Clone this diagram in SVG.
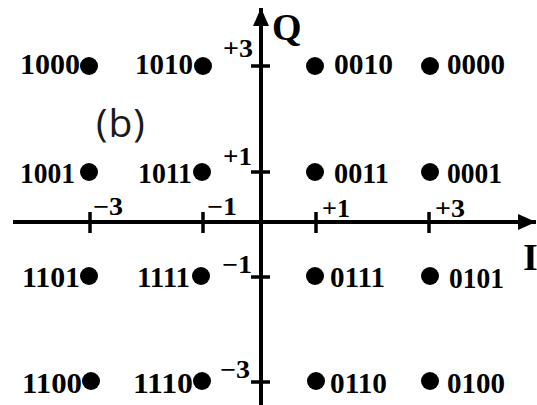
<svg xmlns="http://www.w3.org/2000/svg" width="537" height="405" viewBox="0 0 537 405">
<style>
.lbl{font-family:"Liberation Serif","Times New Roman",serif;font-weight:bold;font-size:30px;fill:#000}
.ax{font-family:"Liberation Serif","Times New Roman",serif;font-weight:bold;font-size:25px;fill:#000}
.big{font-family:"Liberation Serif","Times New Roman",serif;font-weight:bold;font-size:38px;fill:#000}
.axis{stroke:#000;stroke-width:4;fill:none}
.tick{stroke:#000;stroke-width:3.5;fill:none}
.dot{fill:#000}
</style>
<defs>
<marker id="arr" markerUnits="userSpaceOnUse" markerWidth="20" markerHeight="16" refX="18" refY="8" orient="auto">
<path d="M0,0 L18,8 L0,16 z" fill="#000"/>
</marker>
</defs>
<rect width="537" height="405" fill="#fff"/>
<g id="connectors">
<line class="axis" x1="261" y1="405" x2="261" y2="8" marker-end="url(#arr)"/>
<line class="axis" x1="13" y1="222" x2="536" y2="222" marker-end="url(#arr)"/>
<g id="ticks">
<line class="tick" x1="90" y1="212" x2="90" y2="233"/>
<line class="tick" x1="203" y1="212" x2="203" y2="233"/>
<line class="tick" x1="316" y1="212" x2="316" y2="233"/>
<line class="tick" x1="429" y1="212" x2="429" y2="233"/>
<line class="tick" x1="251" y1="66" x2="270" y2="66"/>
<line class="tick" x1="251" y1="172" x2="270" y2="172"/>
<line class="tick" x1="251" y1="277" x2="270" y2="277"/>
<line class="tick" x1="251" y1="382" x2="270" y2="382"/>
</g>
</g>
<g id="axis-labels">
<text class="big" x="272" y="40">Q</text>
<text class="big" x="523" y="270" font-size="40">I</text>
<text class="ax" x="223" y="57" textLength="30" lengthAdjust="spacingAndGlyphs">+3</text>
<text class="ax" x="223" y="165" textLength="29" lengthAdjust="spacingAndGlyphs">+1</text>
<text class="ax" x="222" y="273" textLength="30" lengthAdjust="spacingAndGlyphs">−1</text>
<text class="ax" x="220" y="378" textLength="30" lengthAdjust="spacingAndGlyphs">−3</text>
<text class="ax" x="93" y="215" textLength="30" lengthAdjust="spacingAndGlyphs">−3</text>
<text class="ax" x="207" y="215" textLength="30" lengthAdjust="spacingAndGlyphs">−1</text>
<text class="ax" x="322" y="217" textLength="28" lengthAdjust="spacingAndGlyphs">+1</text>
<text class="ax" x="435" y="217" textLength="30" lengthAdjust="spacingAndGlyphs">+3</text>
</g>
<text x="96" y="137" font-family="'Open Sans','Liberation Sans',sans-serif" font-size="39" fill="#1a1a1a" letter-spacing="1">(b)</text>
<g id="n1000"><circle class="dot" cx="89" cy="66" r="9"/><text class="lbl" x="20" y="74" textLength="60" lengthAdjust="spacingAndGlyphs">1000</text></g>
<g id="n1010"><circle class="dot" cx="203" cy="66" r="9"/><text class="lbl" x="135" y="74" textLength="58" lengthAdjust="spacingAndGlyphs">1010</text></g>
<g id="n0010"><circle class="dot" cx="315" cy="66" r="9"/><text class="lbl" x="334" y="74" textLength="59" lengthAdjust="spacingAndGlyphs">0010</text></g>
<g id="n0000"><circle class="dot" cx="430" cy="66" r="9"/><text class="lbl" x="447" y="74" textLength="58" lengthAdjust="spacingAndGlyphs">0000</text></g>
<g id="n1001"><circle class="dot" cx="89" cy="172" r="9"/><text class="lbl" x="20" y="183" textLength="55" lengthAdjust="spacingAndGlyphs">1001</text></g>
<g id="n1011"><circle class="dot" cx="202" cy="172" r="9"/><text class="lbl" x="138" y="183" textLength="54" lengthAdjust="spacingAndGlyphs">1011</text></g>
<g id="n0011"><circle class="dot" cx="315" cy="172" r="9"/><text class="lbl" x="334" y="183" textLength="55" lengthAdjust="spacingAndGlyphs">0011</text></g>
<g id="n0001"><circle class="dot" cx="430" cy="172" r="9"/><text class="lbl" x="447" y="183" textLength="55" lengthAdjust="spacingAndGlyphs">0001</text></g>
<g id="n1101"><circle class="dot" cx="89" cy="276" r="9"/><text class="lbl" x="22" y="287" textLength="58" lengthAdjust="spacingAndGlyphs">1101</text></g>
<g id="n1111"><circle class="dot" cx="201" cy="276" r="9"/><text class="lbl" x="137" y="287" textLength="53" lengthAdjust="spacingAndGlyphs">1111</text></g>
<g id="n0111"><circle class="dot" cx="315" cy="276" r="9"/><text class="lbl" x="330" y="287" textLength="55" lengthAdjust="spacingAndGlyphs">0111</text></g>
<g id="n0101"><circle class="dot" cx="430" cy="276" r="9"/><text class="lbl" x="449" y="288" textLength="55" lengthAdjust="spacingAndGlyphs">0101</text></g>
<g id="n1100"><circle class="dot" cx="91" cy="381" r="9"/><text class="lbl" x="22" y="393" textLength="60" lengthAdjust="spacingAndGlyphs">1100</text></g>
<g id="n1110"><circle class="dot" cx="202" cy="381" r="9"/><text class="lbl" x="133" y="393" textLength="60" lengthAdjust="spacingAndGlyphs">1110</text></g>
<g id="n0110"><circle class="dot" cx="316" cy="381" r="9"/><text class="lbl" x="330" y="393" textLength="57" lengthAdjust="spacingAndGlyphs">0110</text></g>
<g id="n0100"><circle class="dot" cx="430" cy="381" r="9"/><text class="lbl" x="447" y="393" textLength="58" lengthAdjust="spacingAndGlyphs">0100</text></g>
</svg>
